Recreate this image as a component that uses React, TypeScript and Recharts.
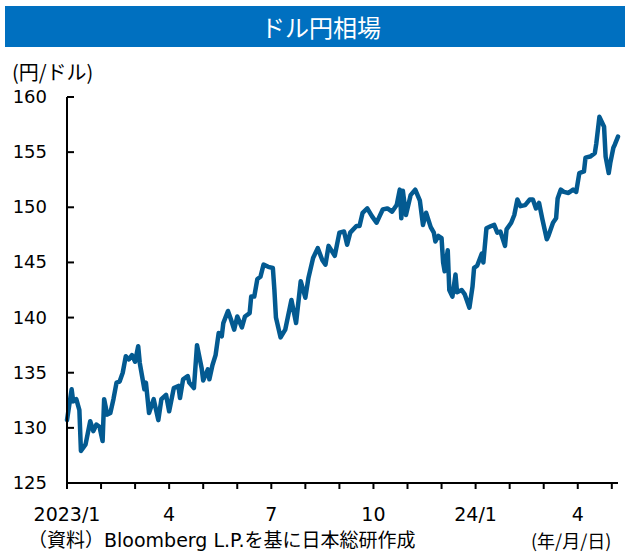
import React from 'react';
import { LineChart, Line, XAxis, YAxis } from 'recharts';

// Business-day index (0 = 2023/1 start) and USD/JPY closes
const dayIndex = [
  0, 3, 4, 6, 8, 9, 12, 15, 17, 19,
  21, 23, 24, 26, 28, 30, 32, 34, 36, 38,
  40, 42, 44, 46, 47, 50, 51, 53, 56, 59,
  61, 64, 66, 69, 72, 73, 75, 78, 79, 82,
  84, 87, 88, 91, 92, 94, 96, 98, 100, 101,
  104, 106, 108, 110, 113, 115, 118, 119, 121, 123,
  125, 127, 130, 133, 134, 135, 138, 141, 145, 148,
  151, 154, 156, 159, 162, 165, 167, 169, 173, 176,
  179, 181, 183, 187, 189, 191, 194, 197, 200, 202,
  204, 207, 210, 213, 215, 216, 217, 219, 222, 225,
  228, 230, 232, 235, 237, 238, 240, 242, 243, 244,
  246, 247, 249, 251, 252, 255, 257, 260, 262, 263,
  265, 268, 269, 271, 274, 276, 278, 280, 283, 284,
  287, 289, 291, 293, 296, 299, 301, 303, 305, 307,
  310, 311, 314, 316, 317, 319, 321, 324, 327, 329,
  331, 334, 335, 338, 341, 342, 344, 346, 347, 348,
  350, 351, 353, 354, 356,
];

const usdJpy = [
  130.7, 133.5, 132.4, 132.6, 131.6, 127.9, 128.5, 130.6, 129.7, 130.3,
  130.1, 128.8, 132.6, 131.2, 131.35, 132.6, 134.1, 134.2, 135.0, 136.5,
  136.2, 136.6, 136.0, 137.4, 135.9, 133.5, 134.1, 131.35, 132.6, 130.7,
  132.6, 133.0, 131.5, 133.6, 133.8, 132.7, 134.4, 134.7, 134.1, 133.6,
  137.5, 135.4, 134.3, 135.3, 134.4, 135.7, 136.6, 138.6, 138.3, 139.5,
  140.6, 139.8, 138.9, 140.1, 139.1, 140.1, 140.4, 141.9, 141.9, 143.5,
  143.7, 144.8, 144.6, 144.5, 142.5, 140.0, 138.2, 138.9, 141.6, 139.5,
  143.3, 141.8, 143.6, 145.4, 146.3, 145.2, 144.8, 146.5, 145.6, 147.7,
  147.8, 146.6, 147.7, 148.3, 148.3, 149.5, 149.9, 149.2, 148.6, 149.2,
  149.8, 149.9, 149.6, 150.2, 151.6, 149.0, 151.5, 149.3, 151.1, 151.6,
  150.6, 148.4, 149.5, 148.2, 147.7, 146.9, 147.4, 147.2, 145.0, 144.2,
  146.1, 142.5, 141.9, 143.9, 142.3, 142.5, 142.1, 140.9, 142.8, 144.5,
  144.7, 145.8, 145.0, 148.1, 148.3, 148.4, 147.7, 147.8, 146.5, 148.0,
  148.6, 149.3, 150.7, 150.1, 150.2, 150.7, 150.7, 149.9, 150.4, 149.0,
  147.1, 147.4, 148.6, 149.0, 150.8, 151.6, 151.4, 151.3, 151.6, 151.4,
  153.1, 153.25, 154.5, 154.6, 154.9, 155.8, 158.2, 157.6, 157.3, 154.6,
  153.1, 154.0, 155.4, 155.7, 156.4,
];

const xTicks = [0, 22, 44, 66, 88, 110, 132, 154, 176, 198, 220, 242, 264, 286, 308, 330, 352];
const xTickLabels: Record<number, string> = {
  0: '2023/1',
  66: '4',
  132: '7',
  198: '10',
  264: '24/1',
  330: '4',
};
const yTicks = [125, 130, 135, 140, 145, 150, 155, 160];

const title = 'ドル円相場';
const unitLabel = '(円/ドル)';
const sourceLabel = '（資料）Bloomberg L.P.を基に日本総研作成';
const dateLabel = '(年/月/日)';

const data = dayIndex.map((d, i) => ({ d, v: usdJpy[i] }));

const FONT = '"DejaVu Sans", "Noto Sans CJK JP", sans-serif';
const JFONT = '"Noto Sans CJK JP", sans-serif';

const YTick = (props: any) => {
  const { x, y, payload } = props;
  return (
    <g>
      <line x1={x + 8} x2={x + 15} y1={y} y2={y} stroke="#000" strokeWidth={2} />
      <text x={x - 12} y={y} dy={6} textAnchor="end" fontSize={18} fill="#000" fontFamily={FONT}>
        {payload.value}
      </text>
    </g>
  );
};

export default function App() {
  return (
    <div style={{ position: 'absolute', left: 0, top: 0, width: 630, height: 552, background: '#fff', overflow: 'hidden' }}>
      <div
        style={{
          position: 'absolute', left: 5, top: 6, width: 620, height: 41,
          background: '#0070C0', color: '#fff', fontFamily: JFONT, fontSize: 24,
          lineHeight: '41px', textAlign: 'center', boxSizing: 'border-box',
        }}
      >
        <span style={{ position: 'relative', left: 6 }}>{title}</span>
      </div>
      <div style={{ position: 'absolute', left: 12, top: 59, fontFamily: JFONT, fontSize: 20, lineHeight: '26px', color: '#000', whiteSpace: 'nowrap' }}>
        {unitLabel}
      </div>
      <div style={{ position: 'absolute', left: 28, top: 530, fontFamily: FONT, fontSize: 19, lineHeight: '20px', color: '#000', whiteSpace: 'nowrap' }}>
        {sourceLabel}
      </div>
      <div style={{ position: 'absolute', left: 531, top: 530, fontFamily: JFONT, fontSize: 18, lineHeight: '20px', color: '#000', whiteSpace: 'nowrap' }}>
        {dateLabel}
      </div>
      <div style={{ position: 'absolute', left: 0, top: 0 }}>
        <LineChart width={630} height={552} data={data} margin={{ top: 97, right: 12, bottom: 29, left: 7 }}>
          <XAxis
            dataKey="d"
            type="number"
            domain={[0, 356]}
            ticks={xTicks}
            interval={0}
            height={40}
            tickSize={6}
            tickMargin={19}
            axisLine={{ stroke: '#000', strokeWidth: 2 }}
            tickLine={{ stroke: '#000', strokeWidth: 2 }}
            tick={{ fontSize: 19, fill: '#000', fontFamily: FONT }}
            tickFormatter={(v: number) => xTickLabels[v] ?? ''}
          />
          <YAxis
            type="number"
            domain={[125, 160]}
            ticks={yTicks}
            interval={0}
            width={60}
            tickSize={0}
            tickMargin={8}
            axisLine={{ stroke: '#000', strokeWidth: 2 }}
            tickLine={false}
            tick={<YTick />}
          />
          <Line
            type="linear"
            dataKey="v"
            stroke="#035A91"
            strokeWidth={4.5}
            strokeLinejoin="round"
            strokeLinecap="round"
            dot={false}
            isAnimationActive={false}
          />
        </LineChart>
      </div>
    </div>
  );
}
